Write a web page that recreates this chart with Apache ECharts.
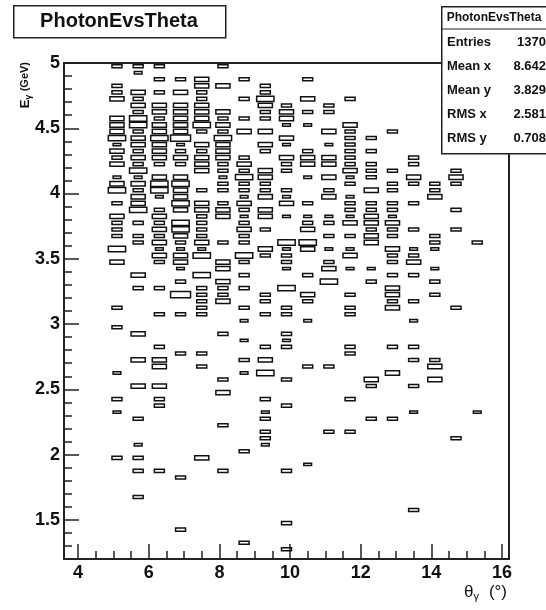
<!DOCTYPE html>
<html>
<head>
<meta charset="utf-8">
<script src="https://cdn.jsdelivr.net/npm/echarts@6/dist/echarts.min.js"></script>
<style>
  html, body { margin: 0; padding: 0; background: #fff; }
  #main { width: 546px; height: 610px; }
</style>
</head>
<body>
<div id="main"></div>
<script>
// axis ticks
const thetaMajor = [4, 6, 8, 10, 12, 14, 16];
const thetaMinor = [4.5, 5, 5.5, 6.5, 7, 7.5, 8.5, 9, 9.5, 10.5, 11, 11.5, 12.5, 13, 13.5, 14.5, 15, 15.5];
const energyMajor = [1.5, 2, 2.5, 3, 3.5, 4, 4.5, 5];
const energyMinor = [1.3, 1.4, 1.6, 1.7, 1.8, 1.9, 2.1, 2.2, 2.3, 2.4, 2.6, 2.7, 2.8, 2.9,
  3.1, 3.2, 3.3, 3.4, 3.6, 3.7, 3.8, 3.9, 4.1, 4.2, 4.3, 4.4, 4.6, 4.7, 4.8, 4.9];

// bin contents per theta column: [energy bin centre (GeV), content]
const col_5_1 = [[4.975,1],[4.825,1],[4.775,1],[4.725,2],[4.575,2],[4.525,2],[4.475,2],[4.425,3],
  [4.375,0.6],[4.325,2],[4.275,1],[4.225,2],[4.125,0.6],[4.075,2],[4.025,3],[3.925,1],[3.825,2],
  [3.775,1],[3.725,1],[3.675,1],[3.575,3],[3.475,2],[3.125,1],[2.975,1],[2.625,0.6],[2.425,1],
  [2.325,0.6],[1.975,1]];
const col_5_7 = [[4.975,1],[4.925,0.6],[4.775,2],[4.725,1],[4.675,2],[4.625,1],[4.575,3],[4.525,3],
  [4.475,1],[4.425,2],[4.375,2],[4.325,1],[4.275,2],[4.225,1],[4.175,3],[4.125,0.6],[4.075,2],
  [4.025,1],[3.975,2],[3.925,2],[3.875,3],[3.775,1],[3.675,1],[3.625,1],[3.375,2],[3.275,1],
  [2.925,2],[2.725,2],[2.525,2],[2.275,1],[2.075,0.6],[1.975,1],[1.875,1],[1.675,1]];
const col_6_3 = [[4.975,1],[4.875,1],[4.775,1],[4.675,2],[4.625,2],[4.575,1],[4.525,2],[4.475,2],
  [4.425,3],[4.375,2],[4.325,2],[4.275,2],[4.225,1],[4.125,2],[4.075,3],[4.025,3],[3.975,0.6],
  [3.875,1],[3.825,2],[3.775,1],[3.725,2],[3.675,1],[3.625,2],[3.575,0.6],[3.525,2],[3.475,1],
  [3.275,1],[3.075,1],[2.825,1],[2.725,2],[2.675,2],[2.525,2],[2.425,1],[2.375,1],[1.875,1]];
const col_6_9 = [[4.875,1],[4.775,2],[4.675,2],[4.625,2],[4.575,2],[4.525,2],[4.475,2],[4.425,4],
  [4.375,0.6],[4.325,1],[4.275,2],[4.225,1],[4.125,2],[4.075,3],[4.025,2],[3.975,2],[3.925,3],
  [3.875,2],[3.775,3],[3.725,3],[3.675,2],[3.625,1],[3.575,0.6],[3.525,2],[3.475,2],[3.425,0.6],
  [3.325,1],[3.225,4],[3.075,1],[2.775,1],[1.825,1],[1.425,1]];
const col_7_5 = [[4.875,2],[4.825,2],[4.775,1],[4.725,1],[4.675,2],[4.625,2],[4.575,2],[4.525,3],
  [4.475,1],[4.375,2],[4.325,1],[4.275,2],[4.225,2],[4.175,2],[4.025,1],[3.925,2],[3.875,2],
  [3.825,1],[3.775,1],[3.725,1],[3.675,1],[3.625,2],[3.575,0.6],[3.525,3],[3.375,3],[3.275,1],
  [3.225,1],[3.175,1],[3.125,1],[3.075,1],[2.775,1],[2.675,1],[1.975,2]];
const col_8_1 = [[4.975,1],[4.825,2],[4.625,2],[4.575,1],[4.525,2],[4.475,1],[4.425,3],[4.375,2],
  [4.325,2],[4.275,2],[4.225,1],[4.175,1],[4.125,0.6],[4.075,1],[4.025,1],[3.925,1],[3.875,2],
  [3.825,2],[3.625,1],[3.475,2],[3.425,2],[3.325,2],[3.275,1],[3.225,1],[3.175,2],[2.925,1],
  [2.575,1],[2.475,2],[2.225,1],[1.875,1]];
const col_8_7 = [[4.875,1],[4.725,1],[4.575,1],[4.475,2],[4.275,1],[4.225,2],[4.175,1],[4.125,3],
  [4.075,1],[4.025,1],[3.975,0.6],[3.925,2],[3.875,1],[3.825,0.6],[3.775,1],[3.725,2],[3.675,1],
  [3.625,1],[3.525,3],[3.475,1],[3.375,1],[3.275,1],[3.125,1],[3.025,0.6],[2.875,0.6],[2.725,1],
  [2.625,0.6],[2.025,1],[1.325,1]];
const col_9_3 = [[4.825,1],[4.775,1],[4.725,3],[4.675,2],[4.625,1],[4.575,1],[4.475,2],[4.375,2],
  [4.325,1],[4.175,2],[4.125,2],[4.075,1],[4.025,1],[3.975,2],[3.875,2],[3.825,2],[3.725,1],
  [3.575,2],[3.525,1],[3.225,1],[3.175,1],[3.075,1],[2.825,1],[2.725,2],[2.625,3],[2.425,1],
  [2.325,0.6],[2.275,1],[2.175,1],[2.125,1],[2.075,0.6]];
const col_9_9 = [[4.675,1],[4.625,2],[4.575,2],[4.525,0.6],[4.425,2],[4.375,0.6],[4.275,2],[4.225,1],
  [4.175,1],[4.025,1],[3.975,0.6],[3.925,2],[3.825,0.6],[3.625,3],[3.575,0.6],[3.525,1],[3.475,1],
  [3.425,0.6],[3.275,3],[3.125,1],[3.075,1],[2.925,1],[2.875,0.6],[2.825,1],[2.575,1],[2.375,1],
  [1.875,1],[1.475,1],[1.275,1]];
const col_10_5 = [[4.875,1],[4.725,2],[4.625,1],[4.525,0.6],[4.325,1],[4.275,2],[4.225,2],[4.125,0.6],
  [3.925,1],[3.825,0.6],[3.775,1],[3.725,2],[3.625,3],[3.575,2],[3.375,1],[3.225,2],[3.175,1],
  [3.025,0.6],[2.675,1],[1.925,0.6]];
const col_11_1 = [[4.675,1],[4.625,1],[4.475,2],[4.375,0.6],[4.275,2],[4.225,2],[4.125,2],[4.025,1],
  [3.975,2],[3.825,0.6],[3.775,1],[3.675,1],[3.575,0.6],[3.475,1],[3.425,2],[3.325,3],[2.675,1],
  [2.175,1]];
const col_11_7 = [[4.725,1],[4.525,2],[4.475,1],[4.425,1],[4.375,1],[4.325,1],[4.275,1],[4.225,1],
  [4.175,2],[4.125,0.6],[4.075,1],[3.975,0.6],[3.925,1],[3.875,1],[3.825,0.6],[3.775,2],[3.675,1],
  [3.575,0.6],[3.525,2],[3.425,0.6],[3.225,1],[3.125,1],[3.075,1],[2.825,1],[2.775,1],[2.425,1],
  [2.175,1]];
const col_12_3 = [[4.425,1],[4.325,1],[4.225,1],[4.175,1],[4.125,1],[4.025,2],[3.925,1],[3.875,1],
  [3.825,2],[3.775,2],[3.725,1],[3.675,2],[3.625,2],[3.425,0.6],[3.325,1],[2.575,2],[2.525,1],
  [2.275,1]];
const col_12_9 = [[4.475,1],[4.175,1],[4.075,1],[4.025,1],[3.925,1],[3.875,1],[3.825,0.6],[3.775,2],
  [3.725,1],[3.675,1],[3.575,2],[3.525,1],[3.475,1],[3.375,1],[3.275,2],[3.225,2],[3.175,1],
  [3.125,2],[2.825,1],[2.625,2],[2.275,1]];
const col_13_5 = [[4.275,1],[4.225,1],[4.125,2],[4.075,1],[3.925,1],[3.725,1],[3.575,0.6],[3.525,1],
  [3.475,2],[3.375,1],[3.175,1],[3.025,0.6],[2.825,1],[2.725,1],[2.525,1],[2.325,0.6],[1.575,1]];
const col_14_1 = [[4.075,1],[4.025,1],[3.975,2],[3.675,1],[3.625,1],[3.575,0.6],[3.425,0.6],[3.325,1],
  [3.225,1],[2.725,1],[2.675,2],[2.575,2]];
const col_14_7 = [[4.175,1],[4.125,2],[4.075,1],[3.875,1],[3.725,1],[3.125,1],[2.125,1]];
const col_15_3 = [[3.625,1],[2.325,0.6]];

const columns = [
  [5.1, col_5_1], [5.7, col_5_7], [6.3, col_6_3], [6.9, col_6_9], [7.5, col_7_5],
  [8.1, col_8_1], [8.7, col_8_7], [9.3, col_9_3], [9.9, col_9_9], [10.5, col_10_5],
  [11.1, col_11_1], [11.7, col_11_7], [12.3, col_12_3], [12.9, col_12_9], [13.5, col_13_5],
  [14.1, col_14_1], [14.7, col_14_7], [15.3, col_15_3]
];

const binW = 0.6;
const binH = 0.05;
const zMax = 4.5;

const cells = [];
columns.forEach(([theta, list]) => {
  list.forEach(([e, z]) => cells.push([theta, e, z]));
});

const font = 'Liberation Sans, Arial, sans-serif';
const chart = echarts.init(document.getElementById('main'));

// ROOT style "box" cell: size grows with the content
const renderBox = (params, api) => {
  const c = api.coord([api.value(0), api.value(1)]);
  const s = api.size([binW, binH]);
  const f = Math.min(1, Math.sqrt(api.value(2) / zMax));
  const w = s[0] * f;
  const h = s[1] * f;
  return {
    type: 'rect',
    shape: { x: c[0] - w / 2, y: c[1] - h / 2, width: w, height: h },
    style: { fill: 'none', stroke: '#111', lineWidth: 1.5 }
  };
};

const tickStyle = { color: '#222', width: 1.5 };

const option = {
  animation: false,
  backgroundColor: '#fff',
  grid: {
    left: 64, right: 37, top: 63, bottom: 51,
    show: true, borderColor: '#222', borderWidth: 2, backgroundColor: 'transparent'
  },
  xAxis: [
    {
      type: 'value', min: 3.6, max: 16.2, position: 'bottom',
      axisLine: { show: false }, splitLine: { show: false },
      axisTick: { show: true, inside: true, length: 15, customValues: thetaMajor, lineStyle: tickStyle },
      axisLabel: { customValues: thetaMajor, fontFamily: font, fontWeight: 'bold', fontSize: 18, color: '#111', margin: 5 }
    },
    {
      type: 'value', min: 3.6, max: 16.2, position: 'bottom',
      axisLine: { show: false }, splitLine: { show: false },
      axisTick: { show: true, inside: true, length: 8, customValues: thetaMinor, lineStyle: tickStyle },
      axisLabel: { show: false }
    }
  ],
  yAxis: [
    {
      type: 'value', min: 1.2, max: 5, position: 'left',
      axisLine: { show: false }, splitLine: { show: false },
      axisTick: { show: true, inside: true, length: 15, customValues: energyMajor, lineStyle: tickStyle },
      axisLabel: { customValues: energyMajor, fontFamily: font, fontWeight: 'bold', fontSize: 18, color: '#111', margin: 4 }
    },
    {
      type: 'value', min: 1.2, max: 5, position: 'left',
      axisLine: { show: false }, splitLine: { show: false },
      axisTick: { show: true, inside: true, length: 8, customValues: energyMinor, lineStyle: tickStyle },
      axisLabel: { show: false }
    }
  ],
  series: [{
    type: 'custom',
    xAxisIndex: 0,
    yAxisIndex: 0,
    clip: true,
    renderItem: renderBox,
    data: cells
  }],
  graphic: [
    // title box
    {
      type: 'rect', left: 13, top: 5, z: 10,
      shape: { width: 212, height: 32 },
      style: { fill: '#fff', stroke: '#222', lineWidth: 1.5 }
    },
    {
      type: 'text', x: 119, y: 21, z: 11,
      style: { text: 'PhotonEvsTheta', font: 'bold 20px ' + font, fill: '#111', align: 'center', verticalAlign: 'middle' }
    },
    // stats box
    {
      type: 'rect', left: 441, top: 6, z: 10,
      shape: { width: 110, height: 147 },
      style: { fill: '#fff', stroke: '#222', lineWidth: 1.5 }
    },
    {
      type: 'line', z: 11,
      shape: { x1: 441, y1: 29, x2: 546, y2: 29 },
      style: { stroke: '#222', lineWidth: 1 }
    },
    {
      type: 'text', x: 494, y: 18, z: 11,
      style: { text: 'PhotonEvsTheta', font: 'bold 12px ' + font, fill: '#111', align: 'center', verticalAlign: 'middle' }
    },
    ...[['Entries', '1370', 42], ['Mean x', '8.642', 66], ['Mean y', '3.829', 90], ['RMS x', '2.581', 114], ['RMS y', '0.708', 138]]
      .flatMap(([label, val, y]) => [
        { type: 'text', x: 447, y: y, z: 11,
          style: { text: label, font: 'bold 13px ' + font, fill: '#111', align: 'left', verticalAlign: 'middle' } },
        { type: 'text', x: 546, y: y, z: 11,
          style: { text: val, font: 'bold 13px ' + font, fill: '#111', align: 'right', verticalAlign: 'middle' } }
      ]),
    // y axis title, rotated
    {
      type: 'text', x: 25, y: 62, rotation: Math.PI / 2, z: 11,
      style: {
        text: '{e|E}{g|γ} {u|(GeV)}',
        align: 'right', verticalAlign: 'middle',
        rich: {
          e: { font: 'bold 13px ' + font, fill: '#111' },
          g: { font: 'bold 9px ' + font, fill: '#111', padding: [8, 0, 0, 0] },
          u: { font: 'bold 11px ' + font, fill: '#111' }
        }
      }
    },
    // x axis title
    {
      type: 'text', x: 507, y: 592, z: 11,
      style: {
        text: '{t|θ}{g|γ}{u|(°)}',
        align: 'right', verticalAlign: 'middle',
        rich: {
          t: { font: '17px ' + font, fill: '#111' },
          g: { font: '11px ' + font, fill: '#111', padding: [9, 0, 0, 0] },
          u: { font: '17px ' + font, fill: '#111', padding: [0, 0, 0, 10] }
        }
      }
    }
  ]
};

chart.setOption(option);
</script>
</body>
</html>
